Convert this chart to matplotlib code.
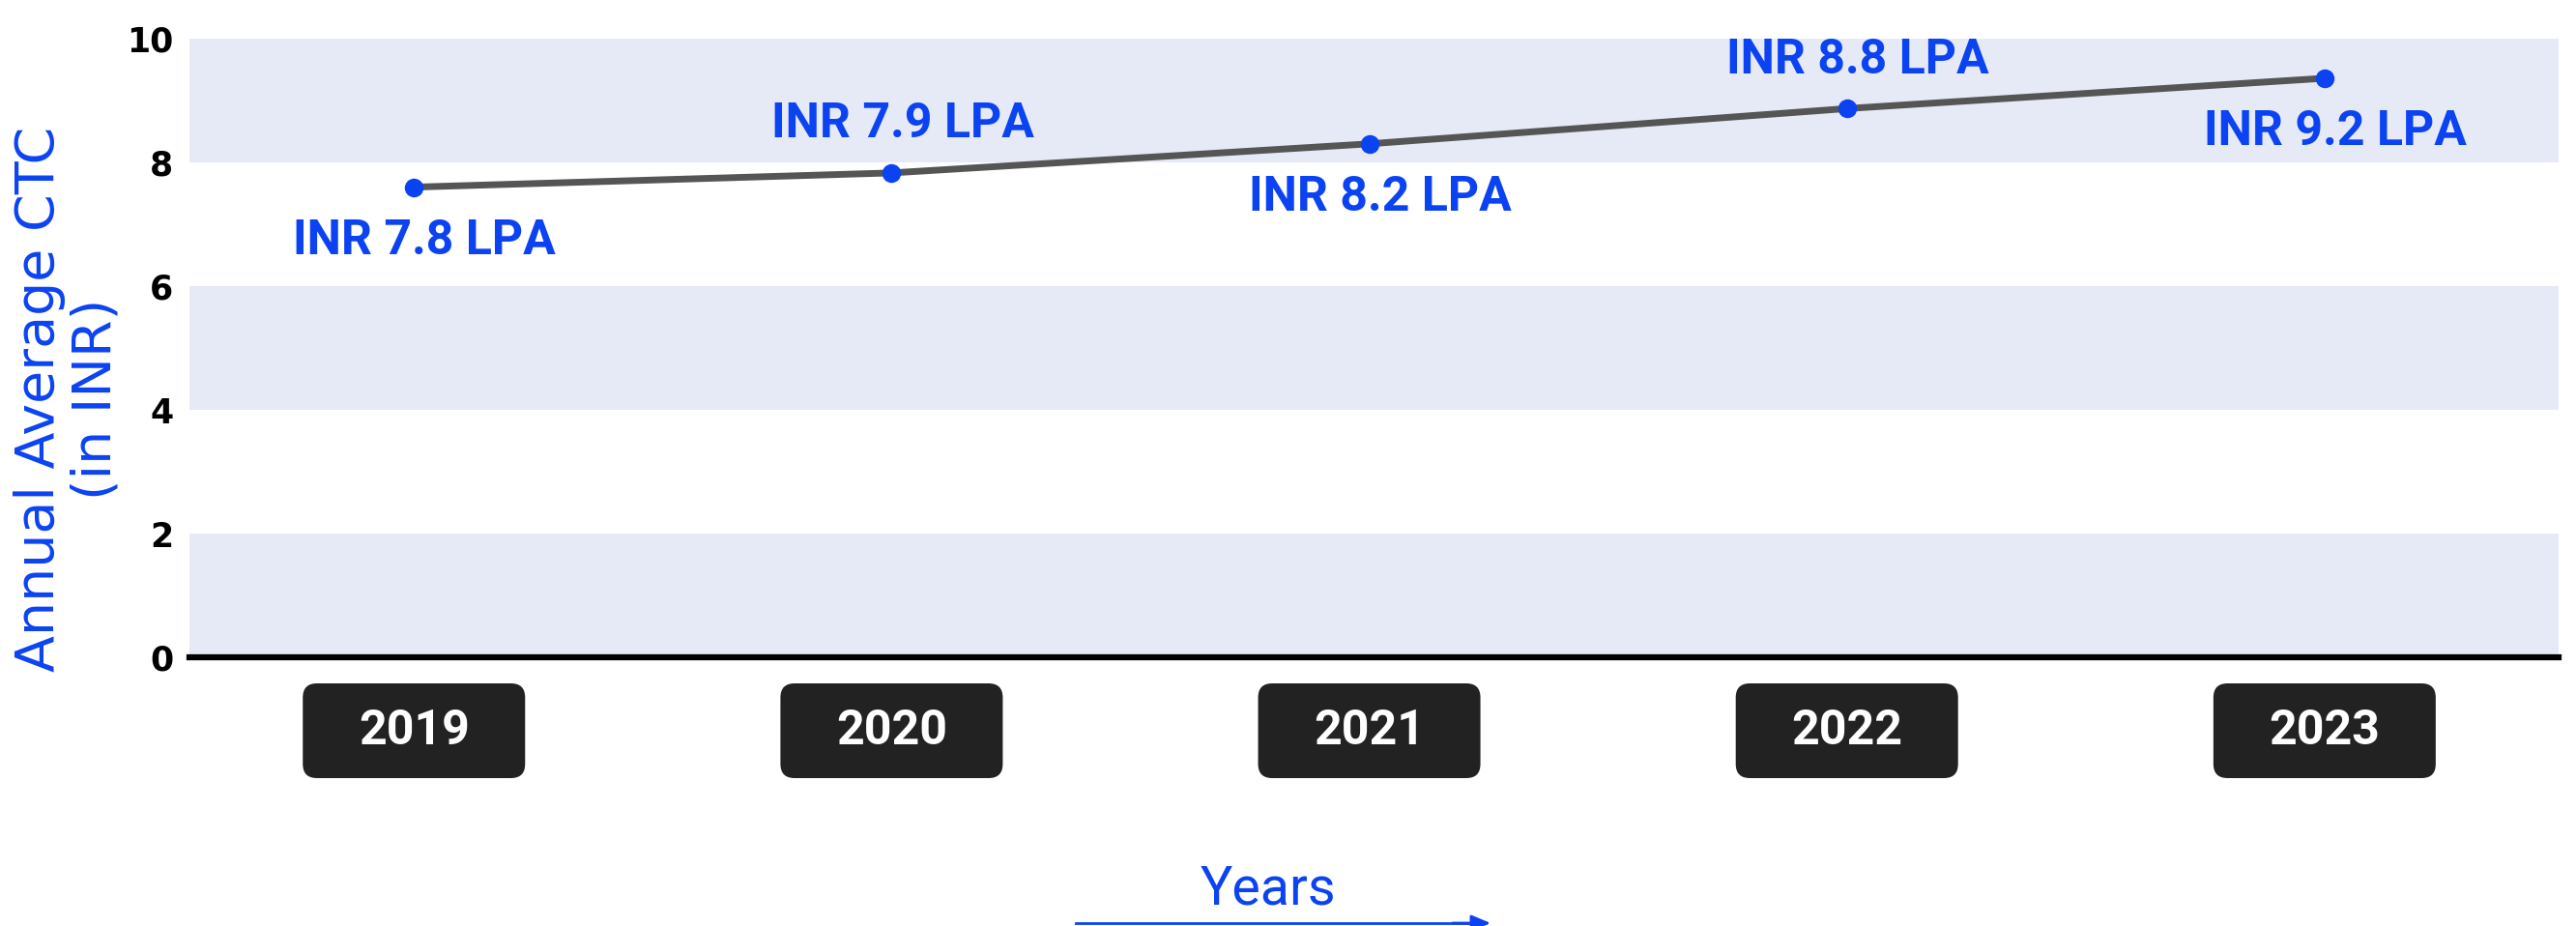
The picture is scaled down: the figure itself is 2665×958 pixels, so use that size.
import matplotlib.pyplot as plt
from matplotlib.patches import FancyBboxPatch
from matplotlib.transforms import ScaledTranslation

# data
years = ["2019", "2020", "2021", "2022", "2023"]
ctc = [7.6, 7.83, 8.3, 8.87, 9.36]
ctc_labels = ["INR 7.8 LPA", "INR 7.9 LPA", "INR 8.2 LPA", "INR 8.8 LPA", "INR 9.2 LPA"]
label_side = ["below", "above", "below", "above", "below"]
y_ticks = [0, 2, 4, 6, 8, 10]

BLUE = "#0B43F2"
BAND = "#E6EAF6"

W, H = 2665, 958
fig = plt.figure(figsize=(W / 100, H / 100), dpi=100)
ax = fig.add_axes([196 / W, 1 - 680 / H, (2647 - 196) / W, 640 / H])

# shaded bands
for lo in (0, 4, 8):
    ax.axhspan(lo, lo + 2, color=BAND, zorder=0, lw=0)

x = list(range(len(years)))
ax.plot(x, ctc, color="#555555", lw=5, zorder=2, solid_capstyle="round")
ax.plot(x, ctc, "o", color=BLUE, ms=13, zorder=3)

for i, (v, txt, side) in enumerate(zip(ctc, ctc_labels, label_side)):
    dy = -40 if side == "below" else 36
    ax.annotate(txt, (i, v), xytext=(8, dy), textcoords="offset points",
                ha="center", va="center", color=BLUE, fontsize=36, fontfamily="Roboto",
                fontweight="bold", zorder=4)

ax.set_xlim(-0.47, 4.49)
ax.set_ylim(0, 10)
ax.set_yticks(y_ticks)
ax.set_yticklabels([str(t) for t in y_ticks], fontsize=25, fontweight="bold", fontfamily="DejaVu Sans")
for lab in ax.get_yticklabels():
    lab.set_transform(lab.get_transform() + ScaledTranslation(0, 0.09, fig.dpi_scale_trans))
ax.tick_params(axis="y", length=0, pad=12)
ax.set_xticks([])
for s in ("top", "right", "left"):
    ax.spines[s].set_visible(False)
ax.spines["bottom"].set_linewidth(4.5)
ax.spines["bottom"].set_color("black")
ax.set_facecolor("white")

# year boxes below the axis
bw, bh = 230 / W, 98 / H
for i, yr in enumerate(years):
    px = ax.transData.transform((i, 0))[0] / W
    cy = 1 - 756 / H
    box = FancyBboxPatch((px - bw / 2, cy - bh / 2), bw, bh,
                         boxstyle="round,pad=0,rounding_size=0.0055",
                         mutation_aspect=W / H, transform=fig.transFigure,
                         facecolor="#222222", edgecolor="none")
    fig.patches.append(box)
    fig.text(px, cy, yr, ha="center", va="center", color="white", fontsize=36,
             fontfamily="Roboto", fontweight="bold")

# axis titles
fig.text(70 / W, 1 - 413 / H, "Annual Average CTC\n(in INR)", rotation=90, ha="center",
         va="center", multialignment="center", color=BLUE, fontsize=40, linespacing=1.1)
fig.text(1312 / W, 1 - 920 / H, "Years", ha="center", va="center", color=BLUE, fontsize=40,
         fontfamily="Roboto")
fig.add_artist(plt.Line2D([1113 / W, 1520 / W], [1 - 955 / H, 1 - 955 / H],
                          transform=fig.transFigure, color=BLUE, lw=2))
ax.annotate("", xy=(1545 / W, 1 - 955 / H), xytext=(1500 / W, 1 - 955 / H),
            xycoords="figure fraction", textcoords="figure fraction",
            arrowprops=dict(arrowstyle="-|>,head_length=1.2,head_width=0.5", color=BLUE, lw=2))

fig.savefig("out.png", dpi=100, facecolor="white")
